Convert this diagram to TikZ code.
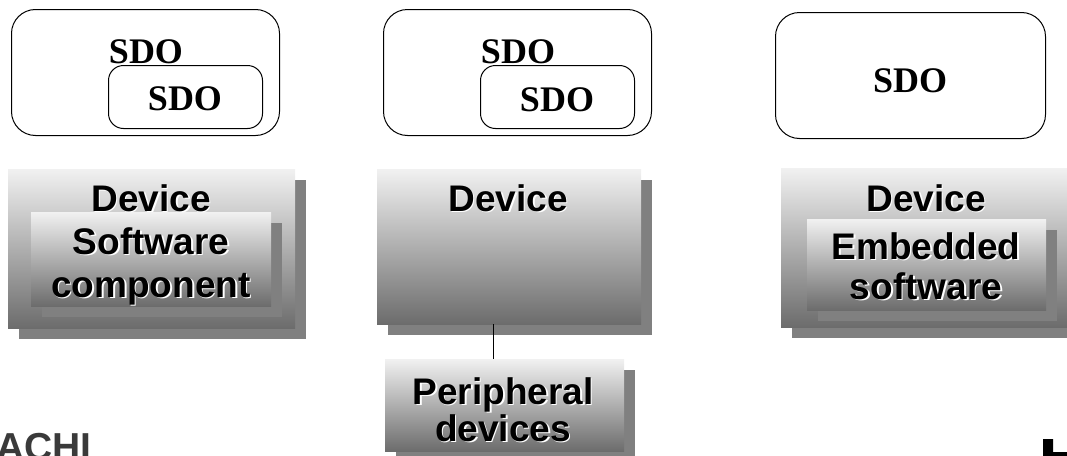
\documentclass[tikz,border=0pt]{standalone}
\usepackage{fontspec}
\setmainfont{Liberation Serif}
\newfontfamily\arialfont{Liberation Sans}
\usetikzlibrary{shadows}

\definecolor{shadegray}{RGB}{128,128,128}
\definecolor{gradtop}{RGB}{241,241,241}
\definecolor{gradbot}{RGB}{108,108,108}
\definecolor{logogray}{RGB}{58,58,58}

\tikzset{
  sdobox/.style={draw=black, line width=1pt, rounded corners=24pt,
    anchor=north west, inner sep=0pt},
  sdoinner/.style={sdobox, rounded corners=15pt},
  sdotext/.style={font=\bfseries\fontsize{36}{40}\selectfont,
    anchor=base, inner sep=0pt},
  devbox/.style={anchor=north west, inner sep=0pt, draw=none,
    top color=gradtop, bottom color=gradbot,
    drop shadow={shadow xshift=11pt, shadow yshift=-11pt,
      fill=shadegray, opacity=1}},
  devtext/.style={font=\arialfont\bfseries\fontsize{37}{40}\selectfont,
    anchor=base, inner sep=0pt, text=black},
  devglow/.style={devtext, text=white},
  link/.style={draw=black, line width=0.9pt},
}

% label with a light offset copy behind it: name, x, y, text
\newcommand\glowlabel[4]{%
  \node[devglow] (#1-glow) at (#2+1.6,#3+1.6) {#4};
  \node[devtext] (#1) at (#2,#3) {#4};}

\begin{document}
\begin{tikzpicture}[x=1pt,y=-1pt]
  \useasboundingbox (0,0) rectangle (1067,455);
  \clip (0,0) rectangle (1067,455);

  % ---- service objects ----
  \node[sdobox, minimum width=268pt, minimum height=126pt] (sdoA) at (11,9) {};
  \node[sdoinner, minimum width=154pt, minimum height=63pt] (sdoAin) at (108,65) {};
  \node[sdotext] (sdoAt) at (146,63) {SDO};
  \node[sdotext] (sdoAint) at (185,110) {SDO};

  \node[sdobox, minimum width=268pt, minimum height=126pt] (sdoB) at (383,9) {};
  \node[sdoinner, minimum width=154pt, minimum height=63pt] (sdoBin) at (480,65) {};
  \node[sdotext] (sdoBt) at (518,63) {SDO};
  \node[sdotext] (sdoBint) at (557,111) {SDO};

  \node[sdobox, minimum width=270pt, minimum height=126pt] (sdoC) at (775,12) {};
  \node[sdotext] (sdoCt) at (910,92) {SDO};

  % ---- devices ----
  \node[devbox, minimum width=287pt, minimum height=159pt] (devA) at (8,169) {};
  \node[devbox, minimum width=240pt, minimum height=94pt] (swA) at (31,212) {};
  \glowlabel{devAt}{151}{211}{Device}
  \glowlabel{swAt1}{151}{254}{Software}
  \glowlabel{swAt2}{151}{297}{component}

  \node[devbox, minimum width=264pt, minimum height=155pt] (devB) at (377,169) {};
  \glowlabel{devBt}{508}{211}{Device}

  \node[devbox, minimum width=239pt, minimum height=92pt] (per) at (385,359) {};
  \glowlabel{perT1}{503}{404}{Peripheral}
  \glowlabel{perT2}{503}{441}{devices}

  \coordinate (linkx) at (493,0);
  \draw[link] (devB.south -| linkx) -- (per.north -| linkx);

  \node[devbox, minimum width=287pt, minimum height=159pt] (devC) at (781,168) {};
  \node[devbox, minimum width=239pt, minimum height=91pt] (embC) at (807,219) {};
  \glowlabel{devCt}{926}{211}{Device}
  \glowlabel{embT1}{926}{259}{Embedded}
  \glowlabel{embT2}{926}{299}{software}

  % ---- footer marks ----
  \node[font=\arialfont\bfseries\fontsize{39}{40}\selectfont, text=logogray,
    anchor=base west, inner sep=0pt] (logo) at (-4,460) {ACHI};
  \fill[black] (1043,439) -- (1053,439) -- (1053,452) -- (1068,452)
    -- (1068,456) -- (1043,456) -- cycle;
\end{tikzpicture}
\end{document}
